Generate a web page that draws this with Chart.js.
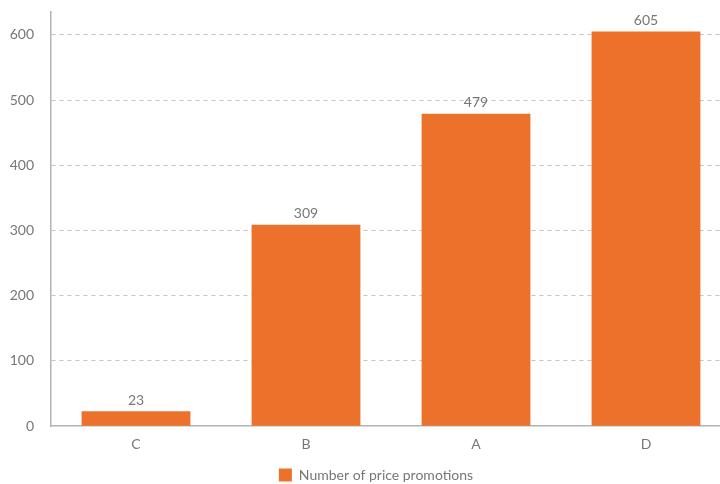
<!DOCTYPE html>
<html>
<head>
<meta charset="utf-8">
<script src="https://cdn.jsdelivr.net/npm/chart.js@4"></script>
<style>
  html, body { margin: 0; padding: 0; background: #fff; overflow: hidden; }
  #wrap { width: 752px; height: 492px; }
</style>
</head>
<body>
<div id="wrap"><canvas id="chart"></canvas></div>
<script>
const categories = ["C", "B", "A", "D"];
const promotions = [23, 309, 479, 605];
const seriesName = "Number of price promotions";

const barColor = "#ec712b";
const textColor = "#777777";

// draws the value above each bar
const valueLabels = {
  id: "valueLabels",
  afterDatasetsDraw(chart) {
    const ctx = chart.ctx;
    const meta = chart.getDatasetMeta(0);
    ctx.save();
    ctx.font = "14px Lato";
    ctx.fillStyle = textColor;
    ctx.textAlign = "center";
    ctx.textBaseline = "bottom";
    meta.data.forEach((bar, i) => {
      ctx.fillText(promotions[i], bar.x, bar.y - 4);
    });
    ctx.restore();
  }
};

const ctx = document.getElementById("chart").getContext("2d");
new Chart(ctx, {
  type: "bar",
  data: {
    labels: categories,
    datasets: [{
      label: seriesName,
      data: promotions,
      backgroundColor: barColor,
      categoryPercentage: 0.64,
      barPercentage: 1
    }]
  },
  options: {
    responsive: true,
    maintainAspectRatio: false,
    animation: false,
    layout: { padding: { top: 12, right: 0, left: 0, bottom: 0 } },
    scales: {
      x: {
        afterFit(scale) {
          scale.paddingRight = 21;
        },
        grid: { display: false },
        border: { color: "#b0b4ba", width: 1.5 },
        ticks: { color: textColor, font: { family: "Lato", size: 14 }, padding: 2 }
      },
      y: {
        min: 0,
        max: 635,
        afterBuildTicks(scale) {
          scale.ticks = scale.ticks.filter(t => t.value % 100 === 0);
        },
        afterFit(scale) {
          scale.width = 51;
          scale.paddingTop = 0;
        },
        ticks: { stepSize: 100, color: textColor, font: { family: "Lato", size: 14 }, padding: 17 },
        grid: {
          color: ctx => ctx.tick && ctx.tick.value === 0 ? "rgba(0,0,0,0)" : "#c4c4c4",
          drawTicks: false
        },
        border: { color: "#b0b4ba", width: 1.5, dash: [4, 4] }
      }
    },
    plugins: {
      legend: {
        position: "bottom",
        labels: {
          color: textColor,
          font: { family: "Lato", size: 14 },
          boxWidth: 13,
          boxHeight: 13,
          padding: 13
        }
      },
      tooltip: { enabled: false }
    }
  },
  plugins: [valueLabels]
});
</script>
</body>
</html>
